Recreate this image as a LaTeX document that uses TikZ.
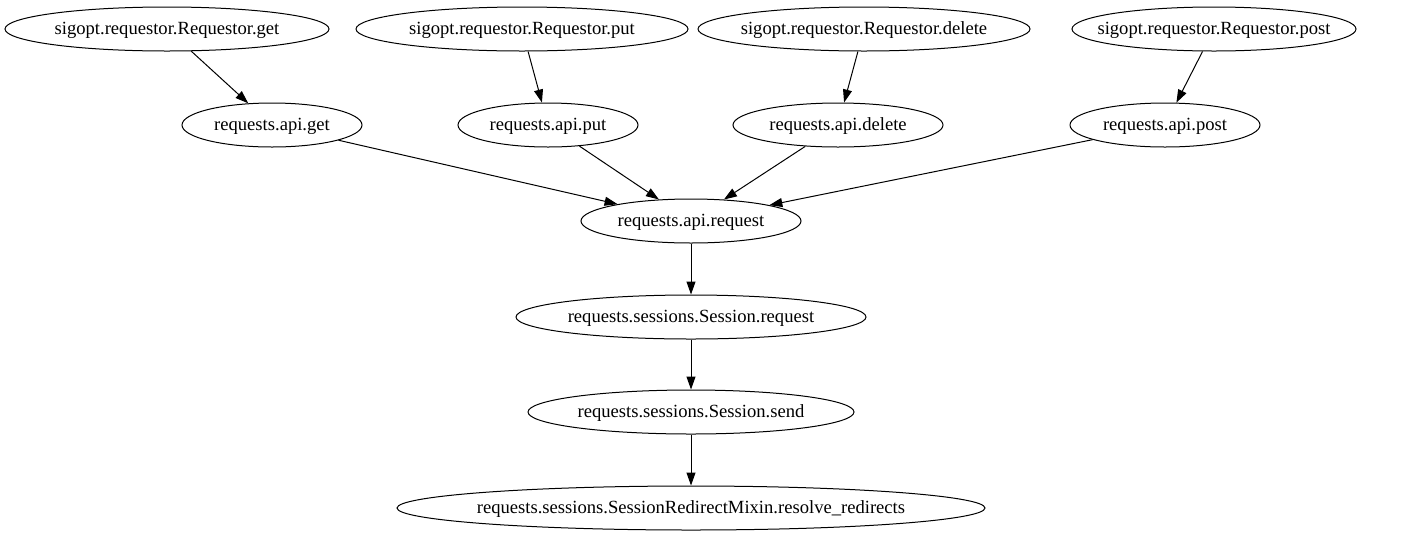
\documentclass[tikz,border=0pt]{standalone}
\usepackage{fontspec}
\setmainfont{Liberation Serif}
\usetikzlibrary{shapes.geometric,arrows.meta}
\begin{document}
\begin{tikzpicture}[x=1pt,y=-1pt,
  nd/.style 2 args={draw,ellipse,inner sep=0pt,minimum height=44pt,minimum width=#1,line width=1pt,
    label={[font=\fontsize{18.6}{21}\selectfont,inner sep=0pt,yshift=-1.5pt]center:#2}},
  ed/.style={-{Triangle[length=13pt,width=9pt]},line width=1pt}]
\useasboundingbox (0,0) rectangle (1410,539);
\node[nd={324pt}{sigopt.requestor.Requestor.get}] (sget) at (167,29) {};
\node[nd={332pt}{sigopt.requestor.Requestor.put}] (sput) at (522,29) {};
\node[nd={332pt}{sigopt.requestor.Requestor.delete}] (sdel) at (864,29) {};
\node[nd={284pt}{sigopt.requestor.Requestor.post}] (spost) at (1214,29) {};
\node[nd={180pt}{requests.api.get}] (aget) at (272,125) {};
\node[nd={180pt}{requests.api.put}] (aput) at (548,125) {};
\node[nd={210pt}{requests.api.delete}] (adel) at (838,125) {};
\node[nd={190pt}{requests.api.post}] (apost) at (1165,125) {};
\node[nd={220pt}{requests.api.request}] (areq) at (691,221) {};
\node[nd={350pt}{requests.sessions.Session.request}] (sreq) at (691,317) {};
\node[nd={326pt}{requests.sessions.Session.send}] (ssend) at (691,412) {};
\node[nd={588pt}{requests.sessions.SessionRedirectMixin.resolve\_redirects}] (redir) at (691,508) {};
\draw[ed] (sget) -- (aget);
\draw[ed] (sput) -- (aput);
\draw[ed] (sdel) -- (adel);
\draw[ed] (spost) -- (apost);
\draw[ed] (aget) -- (areq);
\draw[ed] (aput) -- (areq);
\draw[ed] (adel) -- (areq);
\draw[ed] (apost) -- (areq);
\draw[ed] (areq) -- (sreq);
\draw[ed] (sreq) -- (ssend);
\draw[ed] (ssend) -- (redir);
\end{tikzpicture}
\end{document}
